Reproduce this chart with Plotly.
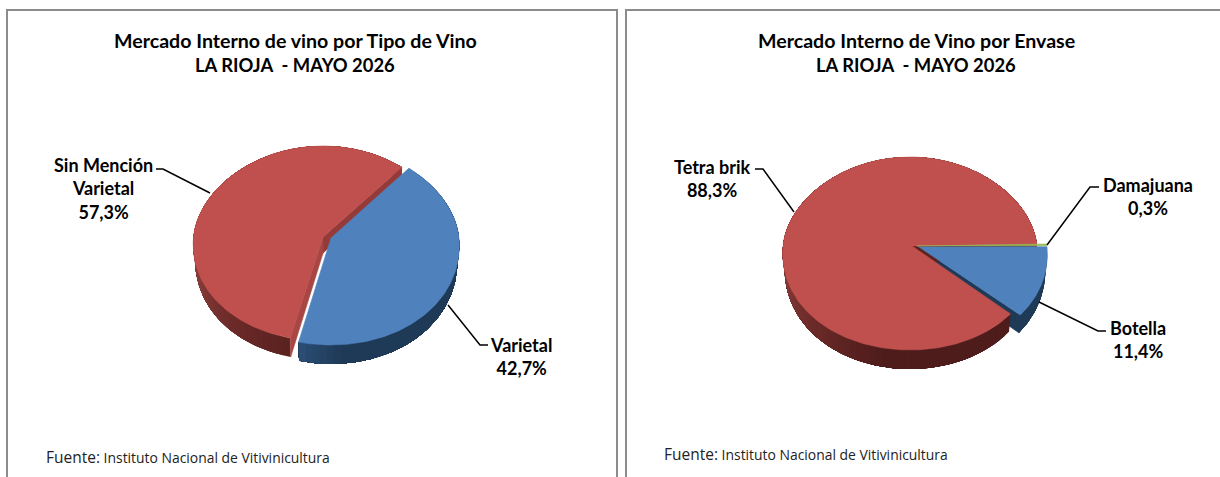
import math
import plotly.graph_objects as go

# ---- data ----
tipo_categories = ["Varietal", "Sin Mención<br>Varietal"]
tipo_values = [42.7, 57.3]
envase_categories = ["Damajuana", "Botella", "Tetra brik"]
envase_values = [0.3, 11.4, 88.3]
titles_left = ["Mercado Interno de vino por Tipo de Vino", "LA RIOJA\u00a0\u00a0- MAYO 2026"]
titles_right = ["Mercado Interno de Vino por Envase", "LA RIOJA\u00a0\u00a0- MAYO 2026"]
source_prefix = "Fuente:"
source_name = "Instituto Nacional de Vitivinicultura"

# ---- styles / layout (pixel-scaled hidden axes) ----
W, H = 1220, 477
RED, BLUE, GREEN = "#C0504D", "#4F81BD", "#9BBB59"
FONT = "Lato"
RED_SIDE_1 = [(195, "#5a2320"), (225, "#6e2c2a"), (270, "#984846"), (400, "#984846")]
RED_SIDE_2 = [(130, "#4d1c1b"), (190, "#4d1c1b"), (230, "#6e2c2a"), (275, "#944543"), (450, "#944543")]
BLUE_SIDE = [(0, "#1f3a57"), (175, "#1f3a57"), (195, "#2d5078")]

START_LEFT = 40.0
START_RIGHT = 88.7
PERSPECTIVE = 0.07

traces = []


def hexrgb(c):
    return tuple(int(c[i:i + 2], 16) for i in (1, 3, 5))


def ramp(stops, t):
    if t <= stops[0][0]:
        return stops[0][1]
    for (a, ca), (b, cb) in zip(stops, stops[1:]):
        if t <= b:
            f = (t - a) / (b - a)
            x, y = hexrgb(ca), hexrgb(cb)
            return "rgb(%d,%d,%d)" % tuple(x[i] + (y[i] - x[i]) * f for i in range(3))
    return stops[-1][1]


def poly(xs, ys, color, width=0.6):
    traces.append(go.Scatter(
        x=xs + xs[:1], y=ys + ys[:1], mode="lines", fill="toself", fillcolor=color,
        line=dict(color=color, width=width), hoverinfo="skip", showlegend=False))


def depth(th):
    return 15.5 - 3.5 * math.cos(math.radians(th))


def rim(g, th, lower=False):
    r = math.radians(th)
    c, s = math.cos(r), math.sin(r)
    ry = g["ryt"] if c > 0 else g["ryb"]
    k = 1 - PERSPECTIVE * c
    x = g["ex"] + g["rx"] * s * k
    y = g["ay"] - ry * c
    if lower:
        x = g["ex"] + g["rx"] * 0.985 * s * k
        y += depth(th)
    return x, y


def sweep(a, b, step=2.0):
    n = max(2, int(abs(b - a) / step) + 1)
    return [a + (b - a) * i / (n - 1) for i in range(n)]


def draw_side(g, a, b, stops):
    # gradient bands: each band runs from its angle to the end of the side, so no seams show
    th = sweep(a, b, 3.0)
    for i in range(len(th) - 1):
        arc = sweep(th[i], b, 1.0)
        up = [rim(g, t) for t in arc]
        lo = [rim(g, t, True) for t in reversed(arc)]
        p = up + lo
        poly([q[0] for q in p], [q[1] for q in p], ramp(stops, (th[i] + th[i + 1]) / 2), 0)


def draw_face(g, th, color):
    x1, y1 = rim(g, th)
    d = depth(180)
    x2, y2 = rim(g, th, True)
    poly([g["ax"], x1, x2, g["ax"]], [g["ay"], y1, y2, g["ay"] + d * 0.85], color)


def draw_top(g, a, b, color):
    pts = [rim(g, t) for t in sweep(a, b, 1.0)]
    poly([g["ax"]] + [q[0] for q in pts], [g["ay"]] + [q[1] for q in pts], color)


def spans(values, start):
    out, a = [], start
    for v in values:
        out.append((a, a + v * 3.6))
        a += v * 3.6
    return out


# Left pie
g_var = dict(ax=331, ay=238, ex=331, rx=128, ryt=91, ryb=107)
g_sin = dict(ax=323, ay=237, ex=323, rx=129.5, ryt=91, ryb=104)
(s_var, s_sin) = spans(tipo_values, START_LEFT)
draw_side(g_sin, s_sin[0], s_sin[1], RED_SIDE_1)
draw_face(g_sin, s_sin[1], "#943B39")
draw_face(g_sin, s_sin[0], "#A84643")
draw_side(g_var, s_var[0], s_var[1], BLUE_SIDE)
draw_top(g_sin, s_sin[0], s_sin[1], RED)
draw_top(g_var, s_var[0], s_var[1], BLUE)

# Right pie
g_dam = dict(ax=917, ay=246, ex=917, rx=130, ryt=89, ryb=104)
g_bot = dict(ax=919, ay=247, ex=919, rx=128, ryt=89, ryb=104)
g_tet = dict(ax=912, ay=246, ex=910, rx=127, ryt=89, ryb=104)
(s_dam, s_bot, s_tet) = spans(envase_values, START_RIGHT)
draw_side(g_bot, s_bot[0], s_bot[1], BLUE_SIDE)
draw_face(g_bot, s_bot[1], "#1f3a57")
draw_side(g_tet, s_tet[0], s_tet[1], RED_SIDE_2)
draw_face(g_tet, s_tet[1], "#5a2320")
draw_top(g_tet, s_tet[0], s_tet[1], RED)
draw_top(g_dam, s_dam[0], s_dam[1], GREEN)
draw_top(g_bot, s_bot[0], s_bot[1], BLUE)

fig = go.Figure(traces)


def label(cat, val):
    return "<b>%s<br>%s%%</b>" % (cat, ("%.1f" % val).replace(".", ","))


annotations = []


def text(x, y, s, size=18, anchor="center", color="#000000"):
    annotations.append(dict(x=x, y=y, xref="x", yref="y", text=s, showarrow=False, xanchor=anchor,
                            yanchor="middle", align="center",
                            font=dict(family=FONT, size=size, color=color)))


text(295, 40, "<b>%s</b>" % titles_left[0], 19.6)
text(295, 65, "<b>%s</b>" % titles_left[1], 18.4)
text(916, 40, "<b>%s</b>" % titles_right[0], 19.6)
text(916, 65, "<b>%s</b>" % titles_right[1], 18.4)
text(103, 188, label(tipo_categories[1], tipo_values[1]))
text(521, 356, label(tipo_categories[0], tipo_values[0]))
text(712, 178, label(envase_categories[2], envase_values[2]))
text(1148, 196, label(envase_categories[0], envase_values[0]))
text(1138, 339, label(envase_categories[1], envase_values[1]))
for x, y in [(43.5, 457), (661.5, 454)]:
    annotations.append(dict(
        x=x, y=y, xref="x", yref="y", showarrow=False, xanchor="left", yanchor="middle",
        text='<span style="font-size:15.5px">%s</span> %s' % (source_prefix, source_name),
        font=dict(family="Open Sans", size=13.9, color="#222222")))

leaders = [
    [(156, 169), (163, 169), (210, 193)],
    [(448, 305), (480, 345), (488, 345)],
    [(755, 169), (763, 169), (794, 212)],
    [(1047, 245), (1090, 187), (1099, 187)],
    [(1039, 302), (1098, 331), (1106, 331)],
]
shapes = [
    dict(type="rect", xref="x", yref="y", x0=7, y0=10, x1=617, y1=490,
         line=dict(color="#8c8c8c", width=2), layer="below"),
    dict(type="rect", xref="x", yref="y", x0=626, y0=10, x1=1240, y1=490,
         line=dict(color="#8c8c8c", width=2), layer="below"),
]
for pts in leaders:
    path = "M " + " L ".join("%g,%g" % p for p in pts)
    shapes.append(dict(type="path", xref="x", yref="y", path=path, line=dict(color="#000000", width=1.5)))

fig.update_layout(
    width=W, height=H, autosize=False, margin=dict(l=0, r=0, t=0, b=0),
    paper_bgcolor="white", plot_bgcolor="white", showlegend=False,
    xaxis=dict(range=[0, W], visible=False, fixedrange=True),
    yaxis=dict(range=[H, 0], visible=False, fixedrange=True),
    annotations=annotations, shapes=shapes,
)
fig.write_html("out.html", config={"displayModeBar": False},
               post_script="document.body.style.margin='0';document.body.style.overflow='hidden';")
